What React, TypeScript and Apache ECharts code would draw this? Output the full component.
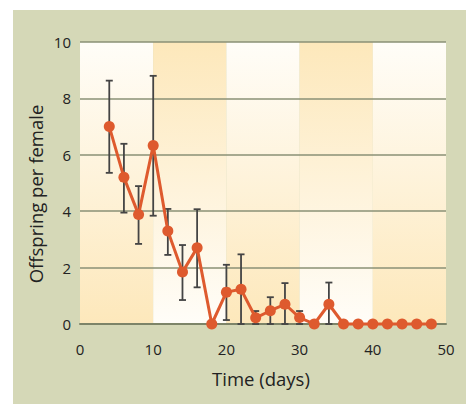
import React, { useEffect, useRef } from "react";
import * as echarts from "echarts";

// Time (days) of each sample
const days = [4, 6, 8, 10, 12, 14, 16, 18, 20, 22, 24, 26, 28, 30, 32, 34, 36, 38, 40, 42, 44, 46, 48];
// Mean offspring per female
const offspring = [7.0, 5.2, 3.88, 6.33, 3.3, 1.84, 2.7, 0, 1.13, 1.23, 0.22, 0.47, 0.7, 0.23, 0, 0.7, 0, 0, 0, 0, 0, 0, 0];
// Error bar lower / upper bounds (null = no bar)
const errLow = [5.36, 3.95, 2.84, 3.84, 2.45, 0.85, 1.3, null, 0.14, 0, 0, 0, 0, 0, null, 0, null, null, null, null, null, null, null];
const errHigh = [8.63, 6.39, 4.89, 8.8, 4.08, 2.8, 4.07, null, 2.1, 2.47, 0.46, 0.95, 1.45, 0.46, null, 1.47, null, null, null, null, null, null, null];
// Background bands: [start day, end day, 1 = yellow at bottom, 0 = yellow at top]
const bands = [
  [0, 10, 1],
  [10, 20, 0],
  [20, 30, 1],
  [30, 40, 0],
  [40, 50, 1],
];
const xTicks = { min: 0, max: 50, interval: 10 };
const yTicks = { min: 0, max: 10, interval: 2 };

const FONT = "'Open Sans', 'Noto Sans', sans-serif";

export default function App() {
  const ref = useRef<HTMLDivElement>(null);
  useEffect(() => {
    if (!ref.current) return;
    const chart = echarts.init(ref.current, undefined, { renderer: "svg" });
    const WHITE = "#fffdf8";
    const YELLOW = "#fde8bb";
    const errData: number[][] = [];
    days.forEach((d, i) => {
      if (errLow[i] !== null && errHigh[i] !== null) errData.push([d, errLow[i] as number, errHigh[i] as number]);
    });
    chart.setOption({
      animation: false,
      graphic: [
        {
          type: "rect",
          z: -100,
          shape: { x: 13, y: 10, width: 453, height: 400 },
          style: { fill: "#d5d8b7" },
          silent: true,
        },
        {
          type: "text",
          x: 35,
          y: 194,
          rotation: Math.PI / 2,
          style: {
            text: "Offspring per female",
            font: `18.5px ${FONT}`,
            fill: "#222",
            align: "center",
            verticalAlign: "middle",
          },
        },
        {
          type: "text",
          x: 261,
          y: 378,
          style: {
            text: "Time (days)",
            font: `18.5px ${FONT}`,
            fill: "#222",
            align: "center",
            verticalAlign: "middle",
          },
        },
      ],
      grid: { left: 80, right: 25, top: 42, bottom: 80 },
      xAxis: {
        type: "value",
        ...xTicks,
        axisLine: { show: true, lineStyle: { color: "#7d8468", width: 2 } },
        axisTick: { show: false },
        splitLine: { show: false },
        axisLabel: { color: "#222", fontSize: 15, fontFamily: FONT, margin: 17 },
      },
      yAxis: {
        type: "value",
        ...yTicks,
        axisLine: { show: false },
        axisTick: { show: false },
        splitLine: { show: true, lineStyle: { color: "#8a9176", width: 1.5 } },
        axisLabel: { color: "#222", fontSize: 15, fontFamily: FONT, margin: 9 },
      },
      series: [
        {
          type: "custom",
          z: -1,
          silent: true,
          data: bands,
          encode: { x: [0, 1] },
          renderItem: (params: any, api: any) => {
            const s = api.value(0);
            const e = api.value(1);
            const dir = api.value(2);
            const p0 = api.coord([s, yTicks.max]);
            const p1 = api.coord([e, yTicks.min]);
            const fill = new echarts.graphic.LinearGradient(0, 0, 0, 1, [
              { offset: 0, color: dir ? WHITE : YELLOW },
              { offset: 1, color: dir ? YELLOW : WHITE },
            ]);
            return {
              type: "rect",
              shape: { x: p0[0], y: p0[1], width: p1[0] - p0[0], height: p1[1] - p0[1] },
              style: { fill },
            };
          },
        },
        {
          type: "custom",
          z: 2,
          silent: true,
          data: errData,
          encode: { x: 0, y: [1, 2] },
          clip: false,
          renderItem: (params: any, api: any) => {
            const x = api.value(0);
            const lo = api.coord([x, api.value(1)]);
            const hi = api.coord([x, api.value(2)]);
            const hw = 3.5;
            const st = { stroke: "#444", lineWidth: 1.8 };
            return {
              type: "group",
              children: [
                { type: "line", shape: { x1: lo[0], y1: lo[1], x2: hi[0], y2: hi[1] }, style: st },
                { type: "line", shape: { x1: hi[0] - hw, y1: hi[1], x2: hi[0] + hw, y2: hi[1] }, style: st },
                { type: "line", shape: { x1: lo[0] - hw, y1: lo[1], x2: lo[0] + hw, y2: lo[1] }, style: st },
              ],
            };
          },
        },
        {
          type: "line",
          z: 3,
          clip: false,
          data: days.map((d, i) => [d, offspring[i]]),
          symbol: "circle",
          symbolSize: 11,
          lineStyle: { color: "#de5a2e", width: 3 },
          itemStyle: { color: "#de5a2e" },
        },
      ],
    });
    return () => chart.dispose();
  }, []);
  return (
    <div
      ref={ref}
      style={{ position: "fixed", left: 0, top: 0, width: 471, height: 404, background: "#fff" }}
    />
  );
}
